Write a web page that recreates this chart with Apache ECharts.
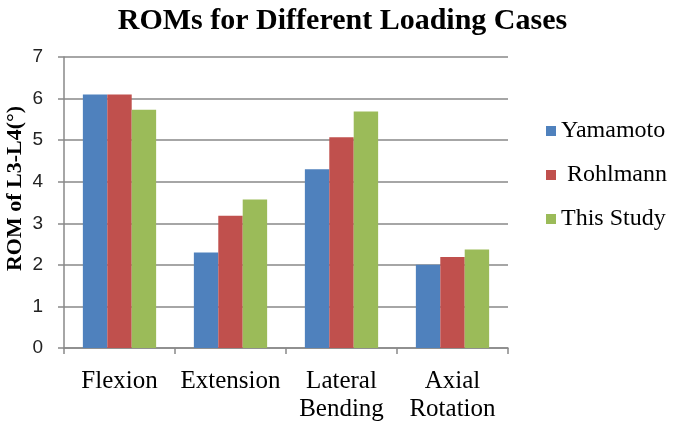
<!DOCTYPE html>
<html>
<head>
<meta charset="utf-8">
<script src="https://cdn.jsdelivr.net/npm/echarts@6/dist/echarts.min.js"></script>
<style>html,body{margin:0;padding:0;background:#fff;}#c{width:685px;height:427px;}</style>
</head>
<body>
<div id="c"></div>
<script>
const categories = ['Flexion', 'Extension', 'Lateral\nBending', 'Axial\nRotation'];
const yamamoto = [6.1, 2.3, 4.3, 2.0];
const rohlmann = [6.1, 3.18, 5.07, 2.19];
const thisStudy = [5.73, 3.57, 5.69, 2.37];
const seriesNames = ['Yamamoto', ' Rohlmann', 'This Study'];
const yTicks = [0, 1, 2, 3, 4, 5, 6, 7];

const serif = 'Liberation Serif';
const gray = '#898989';
const chart = echarts.init(document.getElementById('c'));
chart.setOption({
  animation: false,
  title: {
    text: 'ROMs for Different Loading Cases',
    left: 'center', top: 1,
    textStyle: { fontFamily: serif, fontWeight: 'bold', fontSize: 30, color: '#000' }
  },
  legend: {
    orient: 'vertical', left: 541, top: 114,
    itemWidth: 10, itemHeight: 10, itemGap: 20,
    icon: 'rect',
    textStyle: { fontFamily: serif, fontSize: 24, color: '#000' },
    data: seriesNames
  },
  grid: { left: 64, right: 177, top: 57, bottom: 79, containLabel: false, outerBoundsMode: 'none' },
  xAxis: {
    type: 'category', data: categories,
    axisLine: { lineStyle: { color: gray, width: 1.5 } },
    axisTick: { show: true, length: 6, lineStyle: { color: gray, width: 1.5 } },
    axisLabel: { interval: 0, hideOverlap: false, fontFamily: serif, fontSize: 25, color: '#000', margin: 19, lineHeight: 28 }
  },
  yAxis: {
    type: 'value', min: yTicks[0], max: yTicks[yTicks.length - 1], interval: 1,
    name: 'ROM of L3-L4(°)', nameLocation: 'middle', nameGap: 38, nameMoveOverlap: false,
    nameTextStyle: { fontFamily: serif, fontWeight: 'bold', fontSize: 22, color: '#000', padding: [0, 0, 0, 28] },
    axisLine: { show: true, lineStyle: { color: gray, width: 1.5 } },
    axisTick: { show: true, length: 6, lineStyle: { color: gray, width: 1.5 } },
    axisLabel: { fontFamily: 'Liberation Sans', fontSize: 19, color: '#222', margin: 21 },
    splitLine: { lineStyle: { color: gray, width: 1.5 } }
  },
  series: [
    { name: seriesNames[0], type: 'bar', data: yamamoto, itemStyle: { color: '#4F81BD' }, barGap: '0%', barCategoryGap: '34%' },
    { name: seriesNames[1], type: 'bar', data: rohlmann, itemStyle: { color: '#C0504D' }, barGap: '0%', barCategoryGap: '34%' },
    { name: seriesNames[2], type: 'bar', data: thisStudy, itemStyle: { color: '#9BBB59' }, barGap: '0%', barCategoryGap: '34%' }
  ]
});
</script>
</body>
</html>
